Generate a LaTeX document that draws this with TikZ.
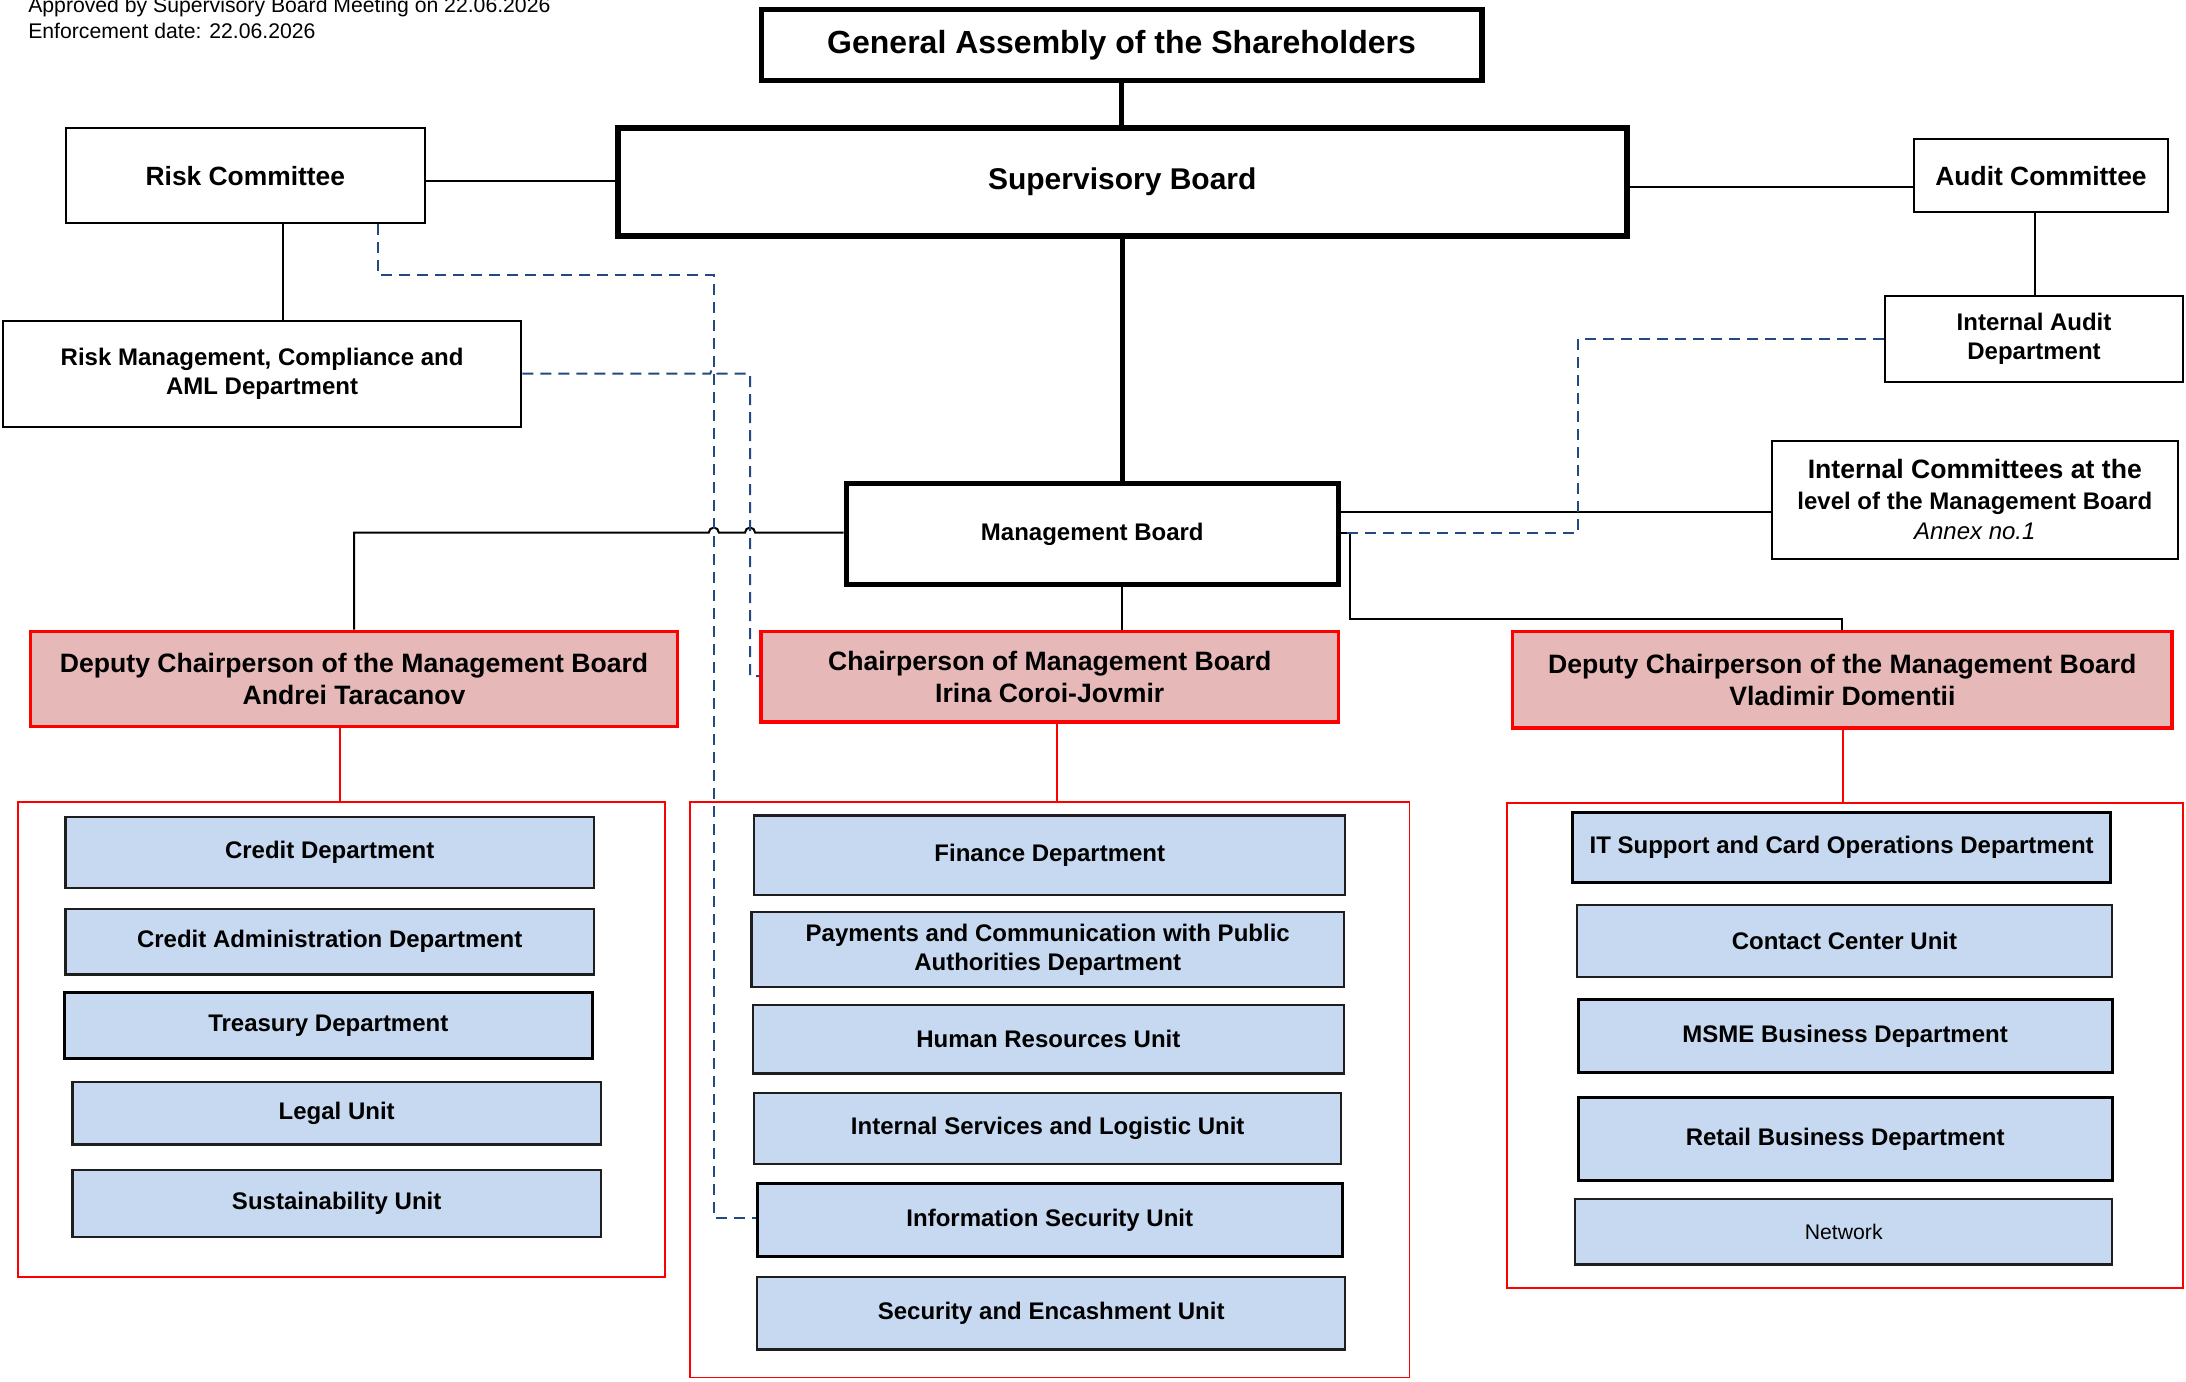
\documentclass[tikz,border=0pt]{standalone}
\usepackage{fontspec}
\setmainfont{Liberation Sans}
\definecolor{pinkfill}{RGB}{230,184,183}
\definecolor{bluefill}{RGB}{198,217,240}
\definecolor{dashblue}{RGB}{36,72,130}
\definecolor{boxedge}{RGB}{30,30,30}
\newcommand\bnode[7]{%
 \pgfmathsetmacro\bcx{(#3+#5)/2}\pgfmathsetmacro\bcy{(#4+#6)/2}%
 \pgfmathsetmacro\bww{(#5-#3)*0.697}\pgfmathsetmacro\bhh{(#6-#4)*0.697}%
 \node[#1, minimum width=\bww pt, minimum height=\bhh pt] (#2) at (\bcx,\bcy) {#7};}
\begin{document}
\begin{tikzpicture}[x=0.697pt,y=-0.697pt,
 bx/.style={rectangle, inner sep=0pt, align=center, font=\bfseries\fontsize{12}{14.5}\selectfont},
 thinbox/.style={bx, draw=black, line width=1pt},
 thickbox/.style={bx, draw=black, line width=2.8pt},
 redbox/.style={bx, draw=red, line width=1.8pt, fill=pinkfill, font=\bfseries\fontsize{13.3}{16}\selectfont},
 grpbox/.style={rectangle, inner sep=0pt, draw=red, line width=0.9pt},
 unitbox/.style={bx, draw=boxedge, line width=1.1pt, fill=bluefill},
 unitboxb/.style={unitbox, draw=black, line width=1.5pt},
 conn/.style={draw=black, line width=1pt},
 thickconn/.style={draw=black, line width=2.4pt},
 redconn/.style={draw=red, line width=1pt},
 dashconn/.style={draw=dashblue, line width=1pt, dash pattern=on 5.5pt off 3.5pt},
 hdr/.style={anchor=base west, inner sep=0pt, font=\fontsize{10.6}{12}\selectfont},
]
\useasboundingbox (0,0) rectangle (1568,991);
\fill[white] (0,0) rectangle (1568,991);

% header
\node[hdr] (hdr1) at (20,9.3) {Approved by Supervisory Board Meeting on 22.06.2026};
\node[hdr] (hdr2) at (20,27.3) {Enforcement date: 22.06.2026};

% top governance
\bnode{thickbox, line width=2.6pt, font=\bfseries\fontsize{16}{19}\selectfont}{ga}{546}{7}{1063}{58}{General Assembly of the Shareholders}
\bnode{thickbox, line width=3pt, font=\bfseries\fontsize{15}{18}\selectfont}{sb}{443}{92}{1167}{169}{Supervisory Board}
\bnode{thinbox, font=\bfseries\fontsize{13.2}{16}\selectfont}{rc}{47}{92}{305}{160}{Risk Committee}
\bnode{thinbox}{rm}{2}{230}{374}{306}{Risk Management, Compliance and\\AML Department}
\bnode{thinbox, font=\bfseries\fontsize{13.2}{16}\selectfont}{ac}{1373}{100}{1555}{152}{Audit Committee}
\bnode{thinbox}{iad}{1352}{212}{1566}{274}{Internal Audit\\Department}
\bnode{thinbox, font=\fontsize{12}{15.3}\selectfont}{ic}{1271}{316}{1562}{401}{{\bfseries\fontsize{13.3}{15.3}\selectfont Internal Committees at the}\\{\bfseries level of the Management Board}\\{\itshape Annex no.1}}
\bnode{thickbox, line width=2.6pt}{mb}{607}{347}{960}{419}{Management Board}

% executives
\bnode{redbox}{dl}{22}{453}{486}{521}{Deputy Chairperson of the Management Board\\Andrei Taracanov}
\bnode{redbox}{ch}{546}{453}{960}{518}{Chairperson of Management Board\\Irina Coroi-Jovmir}
\bnode{redbox}{dr}{1085}{453}{1558}{522}{Deputy Chairperson of the Management Board\\Vladimir Domentii}

% groups
\bnode{grpbox}{gl}{13}{575}{477}{916}{}
\bnode{grpbox}{gm}{495}{575}{1011}{988}{}
\bnode{grpbox}{gr}{1081}{576}{1566}{924}{}

% left units
\bnode{unitbox}{u1}{47}{586}{426}{637}{Credit Department}
\bnode{unitbox}{u2}{47}{652}{426}{699}{Credit Administration Department}
\bnode{unitboxb}{u3}{46}{712}{425}{759}{Treasury Department}
\bnode{unitbox}{u4}{52}{776}{431}{821}{Legal Unit}
\bnode{unitbox}{u5}{52}{839}{431}{887}{Sustainability Unit}

% middle units
\bnode{unitbox}{m1}{541}{585}{965}{642}{Finance Department}
\bnode{unitbox}{m2}{539}{654}{964}{708}{Payments and Communication with Public\\Authorities Department}
\bnode{unitbox}{m3}{540}{721}{964}{770}{Human Resources Unit}
\bnode{unitbox}{m4}{541}{784}{962}{835}{Internal Services and Logistic Unit}
\bnode{unitboxb}{m5}{543}{849}{963}{901}{Information Security Unit}
\bnode{unitbox}{m6}{543}{916}{965}{968}{Security and Encashment Unit}

% right units
\bnode{unitboxb, line width=1.3pt}{r1}{1128}{583}{1514}{633}{IT Support and Card Operations Department}
\bnode{unitbox}{r2}{1131}{649}{1515}{701}{Contact Center Unit}
\bnode{unitboxb}{r3}{1132}{717}{1515}{769}{MSME Business Department}
\bnode{unitboxb}{r4}{1132}{787}{1515}{847}{Retail Business Department}
\bnode{unitbox, font=\fontsize{10.6}{12}\selectfont}{r5}{1130}{860}{1515}{907}{Network}

% solid connectors
\draw[thickconn] (ga.south) -- (ga.south |- sb.north);
\draw[thickconn] (sb.south -| 805,0) -- (mb.north -| 805,0);
\draw[conn] (rc.east |- 0,130) -- (sb.west |- 0,130);
\draw[conn] (rc.south -| 203,0) -- (rm.north -| 203,0);
\draw[conn] (sb.east |- 0,134) -- (ac.west |- 0,134);
\draw[conn] (ac.south -| 1460,0) -- (iad.north -| 1460,0);
\draw[conn] (mb.east |- 0,367) -- (ic.west |- 0,367);
\draw[conn] (mb.east |- 0,382) -- (968,382) -- (968,444) -- (1321,444) -- (dr.north -| 1321,0);
\draw[conn] (mb.west |- 0,382) -- (541.6,382) arc[start angle=0,end angle=180,radius=2.5pt]
  -- (515.6,382) arc[start angle=0,end angle=180,radius=2.5pt]
  -- (254,382) -- (dl.north -| 254,0);
\draw[conn] (mb.south -| 805,0) -- (ch.north -| 805,0);

% red connectors
\draw[redconn] (dl.south -| 244,0) -- (gl.north -| 244,0);
\draw[redconn] (ch.south -| 758,0) -- (gm.north -| 758,0);
\draw[redconn] (dr.south -| 1322,0) -- (gr.north -| 1322,0);

% dashed connectors
\draw[dashconn] (rc.south -| 271,0) -- (271,197) -- (512,197) -- (512,874) -- (m5.west |- 0,874);
\draw[dashconn] (rm.east |- 0,268) -- (509.4,268) arc[start angle=180,end angle=0,radius=1.8pt] -- (538,268) -- (538,485) -- (ch.west |- 0,485);
\draw[dashconn] (iad.west |- 0,243) -- (1132,243) -- (1132,382) -- (mb.east |- 0,382);
\end{tikzpicture}
\end{document}
